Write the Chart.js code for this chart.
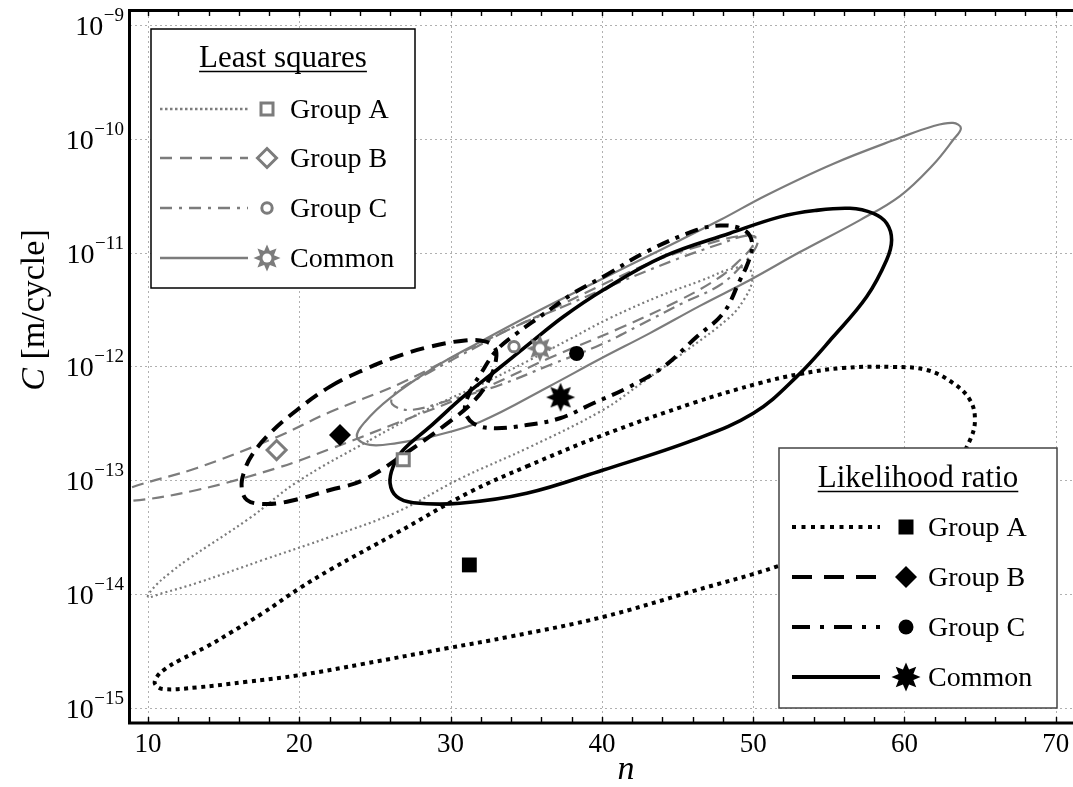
<!DOCTYPE html>
<html><head><meta charset="utf-8">
<script src="https://cdn.jsdelivr.net/npm/chart.js@4/dist/chart.umd.min.js"></script>
<style>html,body{margin:0;padding:0;background:#fff;}canvas{display:block}</style>
</head><body>
<canvas id="c" width="1073" height="787"></canvas>
<script>
// ---------- data ----------
const xTickValues = [10, 20, 30, 40, 50, 60, 70];
const xTickLabels = ['10', '20', '30', '40', '50', '60', '70'];
const yTickValues = [1e-9, 1e-10, 1e-11, 1e-12, 1e-13, 1e-14, 1e-15];
const yTickExps = ['\u22129', '\u221210', '\u221211', '\u221212', '\u221213', '\u221214', '\u221215'];

const groupNames = ['Group A', 'Group B', 'Group C', 'Common'];
// point estimates [n, C]
const lsN = [26.87, 18.5, 34.19, 35.91];
const lsC = [1.51e-13, 1.84e-13, 1.49e-12, 1.44e-12];
const lrN = [31.24, 22.69, 38.33, 37.27];
const lrC = [1.80e-14, 2.49e-13, 1.30e-12, 5.35e-13];

// confidence region outlines, [n, C]
const lsGroupA = [[24.67,2.25e-13],[28.64,4.31e-13],[31.94,6.87e-13],[35.25,1.14e-12],[37.89,1.74e-12],[40.54,2.66e-12],[43.84,4.16e-12],[46.48,5.62e-12],[48.80,7.33e-12],[49.79,7.03e-12],[49.92,5.52e-12],[49.46,3.99e-12],[48.47,2.72e-12],[45.36,1.31e-12],[42.72,7.29e-13],[40.07,4.14e-13],[35.25,1.96e-13],[30.62,1.03e-13],[26.46,5.26e-14],[22.03,3.17e-14],[17.60,1.99e-14],[13.24,1.25e-14],[10.99,1.02e-14],[10.00,9.42e-15],[10.46,1.17e-14],[11.45,1.53e-14],[12.58,1.99e-14],[16.74,4.66e-14],[19.85,9.64e-14]];
const lsGroupB = [[26.46,6.87e-13],[30.16,1.21e-12],[32.41,1.71e-12],[35.91,2.83e-12],[40.54,5.62e-12],[43.84,8.79e-12],[47.15,1.21e-11],[49.13,1.40e-11],[50.12,1.37e-11],[49.92,1.12e-11],[49.13,8.61e-12],[47.81,6.10e-12],[45.16,3.83e-12],[41.20,2.17e-12],[36.57,1.19e-12],[31.94,6.21e-13],[26.46,3.18e-13],[22.03,1.88e-13],[18.53,1.28e-13],[13.24,8.20e-14],[8.81,6.56e-14],[7.62,6.98e-14],[8.81,8.54e-14],[13.24,1.28e-13],[18.53,2.40e-13],[22.03,3.97e-13]];
const lsGroupC = [[37.23,3.26e-12],[41.20,5.52e-12],[45.16,8.97e-12],[47.81,1.19e-11],[49.46,1.40e-11],[50.25,1.34e-11],[50.19,1.12e-11],[49.46,8.26e-12],[47.81,5.19e-12],[45.36,3.61e-12],[42.52,2.31e-12],[39.87,1.54e-12],[36.57,1.03e-12],[33.27,6.87e-13],[29.96,5.07e-13],[27.32,4.14e-13],[26.13,4.68e-13],[26.33,5.83e-13],[28.64,8.93e-13],[31.94,1.54e-12],[34.19,2.22e-12]];
const lsCommon = [[39.87,5.74e-12],[43.84,1.05e-11],[47.81,1.93e-11],[50.91,3.21e-11],[55.27,6.01e-11],[59.70,1.02e-10],[61.88,1.29e-10],[63.21,1.38e-10],[63.73,1.24e-10],[63.21,9.75e-11],[61.88,5.89e-11],[59.70,3.14e-11],[57.06,1.93e-11],[53.09,1.01e-11],[49.79,5.74e-12],[46.48,3.40e-12],[43.18,1.96e-12],[39.87,1.16e-12],[36.57,6.73e-13],[31.94,3.25e-13],[28.64,2.40e-13],[26.46,2.12e-13],[24.67,2.04e-13],[23.81,2.40e-13],[24.34,3.25e-13],[26.00,5.27e-13],[28.97,9.88e-13],[31.94,1.64e-12],[35.91,3.13e-12]];
const lrGroupA = [[35.03,1.32e-13],[40.07,2.49e-13],[46.02,4.76e-13],[50.45,7.14e-13],[53.09,8.57e-13],[55.94,9.68e-13],[59.24,9.9e-13],[61.47,9.29e-13],[63.21,7.14e-13],[64.33,5.07e-13],[64.66,3.38e-13],[64.33,2.25e-13],[63.34,1.36e-13],[61.02,6.70e-14],[57.06,3.30e-14],[51.55,1.74e-14],[46.02,1.06e-14],[40.07,6.28e-15],[33.93,4.22e-15],[29.74,3.33e-15],[24.23,2.43e-15],[20.05,1.94e-15],[16.52,1.69e-15],[13.22,1.51e-15],[11.01,1.46e-15],[10.46,1.62e-15],[10.59,1.87e-15],[11.12,2.19e-15],[12.12,2.63e-15],[13.88,3.44e-15],[15.42,4.54e-15],[17.60,6.81e-15],[20.05,1.13e-14],[22.03,1.63e-14],[26.44,3.44e-14],[31.28,7.87e-14]];
const lrGroupB = [[22.03,6.64e-13],[24.23,9.29e-13],[26.44,1.22e-12],[28.64,1.49e-12],[30.95,1.69e-12],[32.27,1.66e-12],[32.93,1.45e-12],[33.00,1.14e-12],[32.60,7.91e-13],[31.61,5.07e-13],[29.63,3.05e-13],[26.85,1.66e-13],[24.21,1.00e-13],[22.03,8.20e-14],[19.19,6.47e-14],[17.60,6.18e-14],[16.54,6.70e-14],[16.19,8.71e-14],[16.35,1.18e-13],[16.87,1.66e-13],[18.06,2.58e-13],[19.85,4.14e-13]];
const lrGroupC = [[40.09,6.14e-12],[42.96,1.02e-11],[46.27,1.58e-11],[47.81,1.73e-11],[49.13,1.64e-11],[49.79,1.40e-11],[49.92,1.10e-11],[49.68,8.26e-12],[49.13,5.74e-12],[48.02,2.93e-12],[46.27,1.82e-12],[44.06,9.88e-13],[41.64,6.43e-13],[39.43,4.74e-13],[37.23,3.50e-13],[35.03,3.05e-13],[32.82,2.86e-13],[31.50,3.16e-13],[30.95,4.14e-13],[31.28,5.96e-13],[31.94,8.40e-13],[33.05,1.39e-12],[34.37,1.95e-12],[35.91,2.73e-12],[38.11,4.39e-12]];
const lrCommon = [[40.09,4.69e-12],[44.06,9.20e-12],[48.47,1.48e-11],[51.77,2.06e-11],[54.08,2.34e-11],[56.40,2.45e-11],[57.94,2.21e-11],[58.82,1.81e-11],[59.15,1.29e-11],[58.82,8.61e-12],[57.50,4.09e-12],[55.29,1.82e-12],[52.88,8.12e-13],[50.01,3.87e-13],[46.04,2.25e-13],[40.09,1.23e-13],[35.03,7.67e-14],[30.62,6.27e-14],[27.53,6.34e-14],[26.44,7.16e-14],[26.00,9.40e-14],[26.21,1.32e-13],[26.87,1.84e-13],[28.64,2.95e-13],[30.84,5.42e-13],[33.05,9.29e-13],[35.25,1.60e-12],[37.45,2.73e-12]];

// ---------- styles ----------
const GRAY = '#7c7c7c';
const SERIF = '"Liberation Serif", "DejaVu Serif", serif';
const lsDash = [[2, 3], [12, 7], [12, 6, 3, 6], []];
const lrDash = [[4, 4.5], [14, 8], [13, 7, 4, 7], []];
const lsLegendDash = [[2.5, 2.5], [12, 8], [12, 7, 3, 7], []];
const lrLegendDash = [[4, 5.5], [20, 12], [18, 10, 4, 10], []];

function makeStar(kind) {
  const s = 34, c = s / 2;
  const cv = document.createElement('canvas'); cv.width = s; cv.height = s;
  const g = cv.getContext('2d');
  const R = kind === 'ls' ? 13.5 : 14.5, r = kind === 'ls' ? 7.5 : 8;
  g.beginPath();
  for (let i = 0; i < 16; i++) {
    const a = -Math.PI / 2 + i * Math.PI / 8;
    const rad = i % 2 === 0 ? R : r;
    const px = c + rad * Math.cos(a), py = c + rad * Math.sin(a);
    if (i) g.lineTo(px, py); else g.moveTo(px, py);
  }
  g.closePath();
  g.fillStyle = kind === 'ls' ? GRAY : '#000';
  g.fill();
  if (kind === 'ls') { g.beginPath(); g.arc(c, c, 4.5, 0, 2 * Math.PI); g.fillStyle = '#fff'; g.fill(); }
  return cv;
}
const starLS = makeStar('ls');
const starLR = makeStar('lr');

const toPts = arr => arr.map(p => ({x: p[0], y: p[1]}));
function region(data, color, width, dash, order) {
  return {data: toPts(data), borderColor: color, borderWidth: width, borderDash: dash,
    borderCapStyle: 'butt', pointRadius: 0, pointHoverRadius: 0, tension: 0.38, fill: false,
    order: order, isRegion: true};
}

const datasets = [
  region(lsGroupA, GRAY, 2.2, lsDash[0], 3),
  region(lsGroupB, GRAY, 2.2, lsDash[1], 3),
  region(lsGroupC, GRAY, 2.2, lsDash[2], 3),
  region(lsCommon, GRAY, 2.2, lsDash[3], 3),
  region(lrGroupA, '#000', 4, lrDash[0], 2),
  region(lrGroupB, '#000', 4, lrDash[1], 2),
  region(lrGroupC, '#000', 4, lrDash[2], 2),
  region(lrCommon, '#000', 3.6, lrDash[3], 2),
  {data: lsN.map((n, i) => ({x: n, y: lsC[i]})), showLine: false, order: 0,
   pointStyle: ['rect', 'rectRot', 'circle', starLS], pointRadius: [8.5, 9.5, 5.2, 14],
   pointBorderWidth: 3, pointBorderColor: GRAY, pointBackgroundColor: '#fff', pointHoverRadius: 0},
  {data: lrN.map((n, i) => ({x: n, y: lrC[i]})), showLine: false, order: 0,
   pointStyle: ['rect', 'rectRot', 'circle', starLR], pointRadius: [10.5, 11, 7.5, 14],
   pointBorderWidth: 0, pointBorderColor: '#000', pointBackgroundColor: '#000', pointHoverRadius: 0}
];

// close the outlines as smooth loops
const loopPlugin = {
  id: 'loop',
  afterDatasetsUpdate(chart) {
    chart.data.datasets.forEach((ds, i) => {
      if (!ds.isRegion) return;
      const line = chart.getDatasetMeta(i).dataset;
      if (!line) return;
      line._loop = true; line._fullLoop = true; line._pointsUpdated = false;
      delete line._segments; line._path = undefined;
    });
  }
};

function drawMarker(ctx, kind, idx, x, y) {
  ctx.save();
  ctx.setLineDash([]);
  if (idx === 3) { const img = kind === 'ls' ? starLS : starLR; ctx.drawImage(img, x - img.width / 2, y - img.height / 2); ctx.restore(); return; }
  ctx.beginPath();
  if (idx === 0) { const h = kind === 'ls' ? 6 : 7.5; ctx.rect(x - h, y - h, 2 * h, 2 * h); }
  else if (idx === 1) { const r = kind === 'ls' ? 9.5 : 11; ctx.moveTo(x - r, y); ctx.lineTo(x, y - r); ctx.lineTo(x + r, y); ctx.lineTo(x, y + r); ctx.closePath(); }
  else { ctx.arc(x, y, kind === 'ls' ? 5.2 : 7.5, 0, 2 * Math.PI); }
  if (kind === 'ls') { ctx.fillStyle = '#fff'; ctx.fill(); ctx.lineWidth = 3; ctx.strokeStyle = GRAY; ctx.stroke(); }
  else { ctx.fillStyle = '#000'; ctx.fill(); }
  ctx.restore();
}

function drawLegend(ctx, L) {
  ctx.save();
  ctx.fillStyle = '#fff';
  ctx.fillRect(L.x, L.y, L.w, L.h);
  ctx.setLineDash([]);
  ctx.strokeStyle = L.frame; ctx.lineWidth = 1.5;
  ctx.strokeRect(L.x, L.y, L.w, L.h);
  ctx.fillStyle = '#000';
  ctx.font = '31px ' + SERIF;
  ctx.textAlign = 'center'; ctx.textBaseline = 'alphabetic';
  ctx.fillText(L.title, L.titleX, L.titleY);
  const tw = ctx.measureText(L.title).width;
  ctx.beginPath(); ctx.moveTo(L.titleX - tw / 2, L.titleY + 4.5); ctx.lineTo(L.titleX + tw / 2, L.titleY + 4.5);
  ctx.lineWidth = 1.5; ctx.strokeStyle = '#000'; ctx.stroke();
  ctx.font = '28px ' + SERIF; ctx.textAlign = 'left';
  L.names.forEach((name, i) => {
    const y = L.rowY[i];
    ctx.save();
    ctx.strokeStyle = L.color; ctx.lineWidth = L.lw; ctx.lineCap = 'butt';
    ctx.setLineDash(L.dash[i]);
    ctx.beginPath(); ctx.moveTo(L.x0, y); ctx.lineTo(L.x1, y); ctx.stroke();
    ctx.restore();
    drawMarker(ctx, L.kind, i, L.markX, y);
    ctx.fillStyle = '#000';
    ctx.fillText(name, L.textX, y + 9);
  });
  ctx.restore();
}

const framePlugin = {
  id: 'frame',
  beforeDatasetsDraw(chart) {
    const {ctx, chartArea: ca, scales: {x, y}} = chart;
    ctx.save();
    ctx.strokeStyle = '#b0b0b0'; ctx.lineWidth = 1; ctx.setLineDash([2, 3]);
    xTickValues.forEach(v => {
      const px = Math.round(x.getPixelForValue(v)) + 0.5;
      ctx.beginPath(); ctx.moveTo(px, ca.top); ctx.lineTo(px, ca.bottom); ctx.stroke();
    });
    yTickValues.forEach(v => {
      const py = Math.round(y.getPixelForValue(v)) + 0.5;
      ctx.beginPath(); ctx.moveTo(ca.left, py); ctx.lineTo(ca.right, py); ctx.stroke();
    });
    ctx.restore();
  },
  afterDatasetsDraw(chart) {
    const {ctx, chartArea: ca, scales: {x, y}} = chart;
    ctx.save();
    // frame
    ctx.setLineDash([]); ctx.strokeStyle = '#000'; ctx.lineWidth = 3;
    ctx.beginPath();
    ctx.moveTo(ca.right + 2, ca.top - 0.5); ctx.lineTo(ca.left - 0.5, ca.top - 0.5);
    ctx.lineTo(ca.left - 0.5, ca.bottom + 1); ctx.lineTo(ca.right + 2, ca.bottom + 1);
    ctx.stroke();
    // minor ticks (inward) every 2 units on bottom & top
    ctx.lineWidth = 1.4;
    for (let v = 10; v <= 70; v += 2) {
      const px = Math.round(x.getPixelForValue(v)) + 0.5;
      ctx.beginPath(); ctx.moveTo(px, ca.bottom); ctx.lineTo(px, ca.bottom - 5); ctx.stroke();
      ctx.beginPath(); ctx.moveTo(px, ca.top + 1); ctx.lineTo(px, ca.top + 5); ctx.stroke();
    }
    // x tick labels
    ctx.fillStyle = '#000';
    ctx.font = '27px ' + SERIF; ctx.textAlign = 'center'; ctx.textBaseline = 'alphabetic';
    xTickValues.forEach((v, i) => ctx.fillText(xTickLabels[i], x.getPixelForValue(v), 752));
    // y tick labels 10^k
    yTickValues.forEach((v, i) => {
      const py = y.getPixelForValue(v);
      ctx.textAlign = 'right';
      ctx.font = '19px ' + SERIF;
      const ew = ctx.measureText(yTickExps[i]).width;
      ctx.fillText(yTickExps[i], 124, py - 4);
      ctx.font = '28px ' + SERIF;
      ctx.fillText('10', 124 - ew - 0.5, py + 10);
    });
    // axis titles
    ctx.font = 'italic 34px ' + SERIF; ctx.textAlign = 'center';
    ctx.fillText('n', 626, 779);
    ctx.save();
    ctx.translate(44, 310); ctx.rotate(-Math.PI / 2);
    ctx.font = 'italic 34px ' + SERIF;
    const wC = ctx.measureText('C').width;
    ctx.font = '34px ' + SERIF;
    const wR = ctx.measureText(' [m/cycle]').width;
    const x0 = -(wC + wR) / 2;
    ctx.textAlign = 'left';
    ctx.font = 'italic 34px ' + SERIF; ctx.fillText('C', x0, 0);
    ctx.font = '34px ' + SERIF; ctx.fillText(' [m/cycle]', x0 + wC, 0);
    ctx.restore();
    // legends
    drawLegend(ctx, {x: 151, y: 29, w: 264, h: 259, frame: '#000', title: 'Least squares', titleX: 283, titleY: 67,
      names: groupNames, rowY: [109, 158, 208, 258], x0: 160, x1: 248, markX: 267, textX: 290,
      color: GRAY, lw: 2.5, dash: lsLegendDash, kind: 'ls'});
    drawLegend(ctx, {x: 779, y: 448, w: 278, h: 260, frame: '#444', title: 'Likelihood ratio', titleX: 918, titleY: 487,
      names: groupNames, rowY: [527, 577, 627, 677], x0: 792, x1: 880, markX: 906, textX: 928,
      color: '#000', lw: 4, dash: lrLegendDash, kind: 'lr'});
    ctx.restore();
  }
};

new Chart(document.getElementById('c'), {
  type: 'line',
  data: {datasets},
  options: {
    responsive: false, animation: false, events: [],
    layout: {autoPadding: false, padding: {left: 130, top: 11, right: 0, bottom: 65}},
    scales: {
      x: {type: 'linear', min: 8.81, max: 71.14, display: false},
      y: {type: 'logarithmic', min: 7.50e-16, max: 1.327e-9, display: false}
    },
    plugins: {legend: {display: false}, tooltip: {enabled: false}}
  },
  plugins: [loopPlugin, framePlugin]
});
</script>
</body></html>
